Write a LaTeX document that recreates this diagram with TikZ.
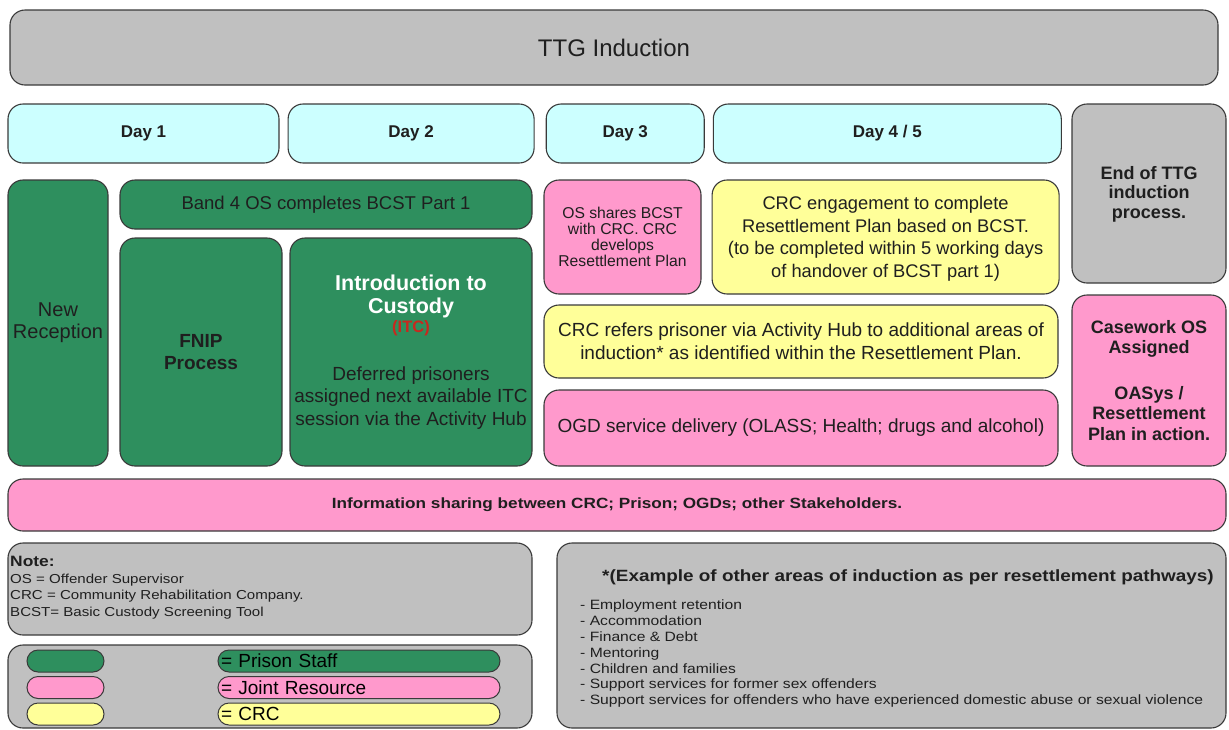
\documentclass[tikz,border=0pt]{standalone}
\usepackage{fontspec}
\setmainfont{Liberation Sans}
\newfontfamily\widefont[FakeStretch=1.16]{Liberation Sans}
\usetikzlibrary{positioning}
\definecolor{staffgreen}{HTML}{2E8F5E}
\definecolor{jointpink}{HTML}{FF99CC}
\definecolor{crcyellow}{HTML}{FFFF99}
\definecolor{daycyan}{HTML}{CCFFFF}
\definecolor{panelgrey}{HTML}{C0C0C0}
\definecolor{edgegrey}{HTML}{3A3A3A}
\definecolor{itcred}{HTML}{C8281E}
\newcommand{\fs}[2]{\fontsize{#1}{#2}\selectfont}

\begin{document}
\begin{tikzpicture}[x=1pt,y=-1pt,node distance=8pt,
  box/.style={draw=edgegrey,line width=1.1pt,rounded corners=15pt,align=center,inner sep=2pt,text=black!88},
  staff node/.style={box,fill=staffgreen},
  joint node/.style={box,fill=jointpink},
  crc node/.style={box,fill=crcyellow},
  grey node/.style={box,fill=panelgrey},
  day node/.style={box,fill=daycyan,minimum height=59pt,font=\bfseries\fs{17}{20}},
  swatch/.style={draw=edgegrey,line width=1pt,rounded corners=11pt,minimum height=22pt,inner sep=0pt}]

  \useasboundingbox (0,0) rectangle (1229,729);

  % header and days
  \node[grey node,minimum width=1208pt,minimum height=75pt,font=\fs{24}{28}] (title) at (614,47.5) {TTG Induction};
  \node[day node,minimum width=271pt] (day1) at (143.5,133.5) {Day 1};
  \node[day node,minimum width=246pt] (day2) [right=of day1] {Day 2};
  \node[day node,minimum width=158pt] (day3) [right=11pt of day2] {Day 3};
  \node[day node,minimum width=348pt] (day45) [right=of day3] {Day 4 / 5};
  \node[grey node,minimum width=154pt,minimum height=179pt,font=\bfseries\fs{18}{19.5}] (endttg) at (1149,193.5) {\\[-5pt]End of TTG\\induction\\process.};

  % prison staff
  \node[staff node,minimum width=100pt,minimum height=286pt,font=\fs{20}{22}] (newrec) at (58,323) {New\\Reception};
  \node[staff node,minimum width=412pt,minimum height=49pt,font=\fs{18.5}{22}] (band4) at (326,204.5) {Band 4 OS completes BCST Part 1};
  \node[staff node,minimum width=162pt,minimum height=228pt,font=\bfseries\fs{19}{22}] (fnip) at (201,352) {FNIP\\Process};
  \node[staff node,minimum width=242pt,minimum height=228pt,font=\fs{19}{22.5}] (itc) at (411,352)
    {\textcolor{white}{\bfseries\fs{21.5}{23}Introduction to}\\\textcolor{white}{\bfseries\fs{21.5}{23}Custody}\\[-3pt]
     \textcolor{itcred}{\bfseries\fs{16.5}{17}(ITC)}\\[25pt]Deferred prisoners\\assigned next available ITC\\session via the Activity Hub};

  % day 3 onwards
  \node[joint node,minimum width=157pt,minimum height=114pt,font=\fs{15.7}{16}] (osshares) at (622.5,237) {OS shares BCST\\with CRC. CRC\\develops\\Resettlement Plan};
  \node[crc node,minimum width=347pt,minimum height=114pt,font=\fs{18.3}{22.5}] (crceng) [right=10pt of osshares] {\\[-6pt]CRC engagement to complete\\Resettlement Plan based on BCST.\\(to be completed within 5 working days\\of handover of BCST part 1)};
  \node[crc node,minimum width=514pt,minimum height=73pt,font=\fs{19}{23}] (crcref) at (801,341.5) {CRC refers prisoner via Activity Hub to additional areas of\\induction* as identified within the Resettlement Plan.};
  \node[joint node,minimum width=514pt,minimum height=76pt,font=\fs{19}{23}] (ogd) at (801,428) {OGD service delivery (OLASS; Health; drugs and alcohol)};
  \node[joint node,minimum width=154pt,minimum height=171pt,font=\bfseries\fs{18}{20.5}] (casework) at (1149,380.5) {Casework OS\\Assigned\\[25pt]OASys /\\Resettlement\\Plan in action.};

  \node[joint node,minimum width=1218pt,minimum height=52pt,font=\widefont\bfseries\fs{14.8}{18}] (infoshare) at (617,505) {Information sharing between CRC; Prison; OGDs; other Stakeholders.};

  % note, key and examples
  \node[grey node,minimum width=524pt,minimum height=92pt] (note) at (270,589) {};
  \node[anchor=north west,align=left,inner sep=0pt,text=black!88,font=\widefont\fs{13}{16.5}] (notetext) at (10,556)
    {\textbf{\fs{15}{18}Note:}\\OS = Offender Supervisor\\CRC = Community Rehabilitation Company.\\BCST= Basic Custody Screening Tool};

  \node[grey node,minimum width=524pt,minimum height=83pt] (legend) at (270,686.5) {};
  \node[swatch,fill=staffgreen,minimum width=77pt] (greenkey) at (65.5,661) {};
  \node[swatch,fill=jointpink,minimum width=77pt] (pinkkey) at (65.5,687.5) {};
  \node[swatch,fill=crcyellow,minimum width=77pt] (yellowkey) at (65.5,714) {};
  \node[swatch,fill=staffgreen,minimum width=282pt,text width=276pt,align=left,font=\fs{19}{20}] (staffbar) at (359,661) {= Prison Staff};
  \node[swatch,fill=jointpink,minimum width=282pt,text width=276pt,align=left,font=\fs{19}{20}] (jointbar) at (359,687.5) {= Joint Resource};
  \node[swatch,fill=crcyellow,minimum width=282pt,text width=276pt,align=left,font=\fs{19}{20}] (crcbar) at (359,714) {= CRC};

  \node[grey node,minimum width=669pt,minimum height=185pt] (example) at (891.5,635.5) {};
  \node[text=black!88,font=\widefont\bfseries\fs{16.3}{19}] (examplehead) at (908,577) {*(Example of other areas of induction as per resettlement pathways)};
  \node[anchor=north west,align=left,inner sep=0pt,text=black!88,font=\widefont\fs{13.5}{15.8}] (examplelist) at (580,600)
    {- Employment retention\\- Accommodation\\- Finance \& Debt\\- Mentoring\\- Children and families\\- Support services for former sex offenders\\- Support services for offenders who have experienced domestic abuse or sexual violence};
\end{tikzpicture}
\end{document}
